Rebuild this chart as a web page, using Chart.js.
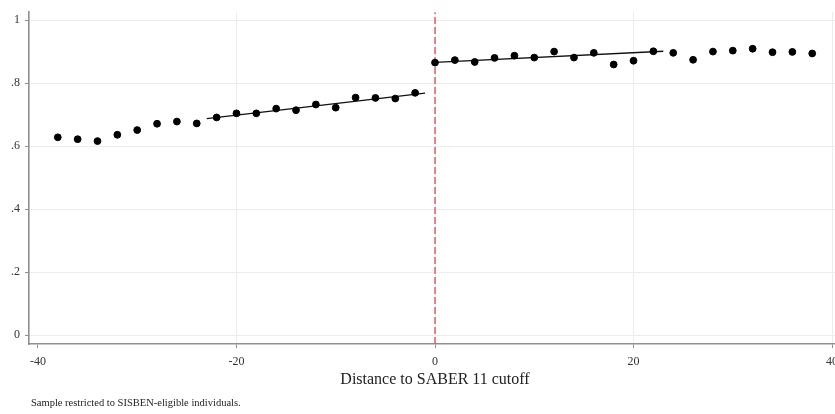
<!DOCTYPE html>
<html>
<head>
<meta charset="utf-8">
<script src="https://cdn.jsdelivr.net/npm/chart.js@4.4.1/dist/chart.umd.min.js"></script>
<style>
    html, body { margin: 0; padding: 0; background: #fff; overflow: hidden; }
    #wrap { position: relative; width: 850px; height: 414px; }
    #note {
        position: absolute; left: 31px; top: 397px;
        font: 10.5px/12px 'Liberation Serif', 'DejaVu Serif', serif; color: #222;
        white-space: nowrap;
    }
</style>
</head>
<body>
<div id="wrap">
    <canvas id="rd-chart" width="850" height="414"></canvas>
    <div id="note">Sample restricted to SISBEN-eligible individuals.</div>
</div>
<script>
// binned means by distance to the cutoff
const binX = [-38, -36, -34, -32, -30, -28, -26, -24, -22, -20, -18, -16, -14, -12, -10, -8, -6, -4, -2,
              0, 2, 4, 6, 8, 10, 12, 14, 16, 18, 20, 22, 24, 26, 28, 30, 32, 34, 36, 38];
const binY = [0.628, 0.622, 0.616, 0.636, 0.651, 0.671, 0.678, 0.672, 0.691, 0.704, 0.704, 0.719, 0.714, 0.732, 0.722, 0.754, 0.753, 0.751, 0.769,
              0.865, 0.873, 0.867, 0.880, 0.887, 0.881, 0.900, 0.881, 0.896, 0.859, 0.871, 0.901, 0.896, 0.874, 0.900, 0.903, 0.909, 0.898, 0.899, 0.894];

// local linear fits on each side
const fitLeftX = [-23, -1];
const fitLeftY = [0.687, 0.768];
const fitRightX = [0, 23];
const fitRightY = [0.866, 0.901];

const cutoff = 0;
const xTicks = [-40, -20, 0, 20, 40];
const yTicks = [0, 0.2, 0.4, 0.6, 0.8, 1];
const xRange = [-40.9, 40.9];
const yRange = [-0.028, 1.025];

const serif = "'Liberation Serif', 'DejaVu Serif', serif";
const toPoints = (xs, ys) => xs.map((x, i) => ({ x: x, y: ys[i] }));

new Chart(document.getElementById('rd-chart'), {
    type: 'scatter',
    data: {
        datasets: [
            {
                data: toPoints(binX, binY),
                backgroundColor: '#000',
                borderColor: '#000',
                pointRadius: 3.4,
                showLine: false
            },
            {
                data: toPoints(fitLeftX, fitLeftY),
                borderColor: '#111',
                borderWidth: 1.3,
                pointRadius: 0,
                showLine: true
            },
            {
                data: toPoints(fitRightX, fitRightY),
                borderColor: '#111',
                borderWidth: 1.3,
                pointRadius: 0,
                showLine: true
            },
            {
                data: toPoints([cutoff, cutoff], yRange),
                borderColor: '#e2525c',
                borderWidth: 1.4,
                borderDash: [7, 3],
                pointRadius: 0,
                showLine: true
            }
        ]
    },
    options: {
        responsive: false,
        animation: false,
        layout: { padding: { top: 10, right: 9, bottom: 20, left: 0 } },
        plugins: {
            legend: { display: false },
            tooltip: { enabled: false }
        },
        scales: {
            x: {
                type: 'linear',
                min: xRange[0],
                max: xRange[1],
                afterBuildTicks: s => { s.ticks = xTicks.map(v => ({ value: v })); },
                afterFit: s => { s.height = 50; },
                border: { color: '#8f8f8f', width: 1.6 },
                grid: {
                    color: c => (c.tick && c.tick.value === -40) ? 'rgba(0,0,0,0)' : '#ececec',
                    tickColor: '#8f8f8f',
                    tickLength: 4,
                    lineWidth: 1
                },
                ticks: {
                    font: { family: serif, size: 12 },
                    color: '#333',
                    padding: 7,
                    maxRotation: 0,
                    callback: v => String(v)
                },
                title: {
                    display: true,
                    text: 'Distance to SABER 11 cutoff',
                    font: { family: serif, size: 16 },
                    color: '#222',
                    padding: { top: 0, bottom: 5 }
                }
            },
            y: {
                min: yRange[0],
                max: yRange[1],
                afterBuildTicks: s => { s.ticks = yTicks.map(v => ({ value: v })); },
                afterFit: s => { s.width = 29; },
                border: { color: '#8f8f8f', width: 1.6 },
                grid: {
                    color: '#ececec',
                    tickColor: '#8f8f8f',
                    tickLength: 4,
                    lineWidth: 1
                },
                ticks: {
                    font: { family: serif, size: 12 },
                    color: '#333',
                    padding: 5,
                    callback: v => (v === 0 || v === 1) ? String(v) : String(v).replace(/^0/, '')
                }
            }
        }
    }
});
</script>
</body>
</html>
